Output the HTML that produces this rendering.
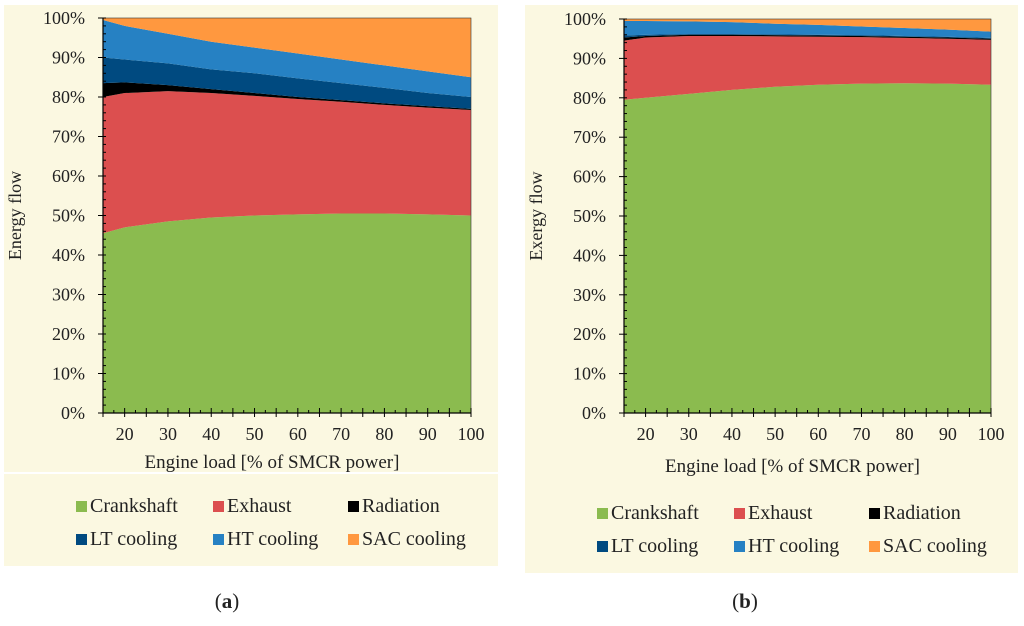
<!DOCTYPE html>
<html><head><meta charset="utf-8">
<style>
body{margin:0;background:#fff;width:1024px;height:621px;overflow:hidden;font-family:"Liberation Serif",serif;}
svg text{font-family:"Liberation Serif",serif;fill:#222;}
</style></head>
<body>
<svg id="fig" width="1024" height="621" xmlns="http://www.w3.org/2000/svg">
  <rect x="4" y="5" width="494" height="467" fill="#FBF8E1"/>
  <rect x="4" y="474" width="494" height="92" fill="#FBF8E1"/>
  <rect x="525" y="5" width="493" height="568" fill="#FBF8E1"/>
  <text x="227" y="608" font-size="21" text-anchor="middle">(<tspan font-weight="bold">a</tspan>)</text>
  <text x="745" y="608" font-size="21" text-anchor="middle">(<tspan font-weight="bold">b</tspan>)</text>
</svg>
<script>
const loads = [15,20,30,40,50,60,70,80,90,100];
const seriesNames = ["Crankshaft","Exhaust","Radiation","LT cooling","HT cooling","SAC cooling"];
const seriesColors = ["#8BBB4F","#DC4F4F","#000000","#004A80","#2681C3","#FF983F"];
const aCrank = [45.5,47,48.5,49.5,50,50.3,50.5,50.5,50.3,50];
const aExhaust = [34.5,34,33,31.5,30.3,29.2,28.3,27.5,27,26.7];
const aRadiation = [3.5,2.7,1.5,1,0.7,0.5,0.4,0.4,0.4,0.3];
const aLT = [6.5,5.8,5.5,5,5,4.7,4.3,3.9,3.3,3];
const aHT = [9.5,8.5,7.5,7,6.5,6.3,6,5.7,5.5,5];
const aSAC = [0.5,2,4,6,7.5,9,10.5,12,13.5,15];
const bCrank = [79.5,80,81,82,82.8,83.3,83.6,83.7,83.6,83.3];
const bExhaust = [15,15.3,14.7,13.7,12.8,12.2,11.8,11.5,11.4,11.4];
const bRadiation = [0.8,0.4,0.3,0.3,0.3,0.3,0.3,0.3,0.3,0.3];
const bLT = [0.5,0.3,0.2,0.2,0.2,0.2,0.2,0.2,0.2,0.2];
const bHT = [3.7,3.5,3.2,3,2.7,2.5,2.2,2,1.8,1.6];
const bSAC = [0.5,0.5,0.6,0.8,1.2,1.5,1.9,2.3,2.7,3.2];
const xTicks = [20,30,40,50,60,70,80,90,100];
const yTicks = [0,10,20,30,40,50,60,70,80,90,100];

const NS="http://www.w3.org/2000/svg";
const svg=document.getElementById('fig');
function mk(tag,attrs,parent){const e=document.createElementNS(NS,tag);for(const k in attrs)e.setAttribute(k,attrs[k]);(parent||svg).appendChild(e);return e;}

function panel(id,x0,x1,y0,y1,series,ytitle,xtitleY,legY){
  const sx=v=>x0+(v-15)/(100-15)*(x1-x0);
  const sy=v=>y1-v/100*(y1-y0);
  const g=mk('g',{});
  
  
  let base=loads.map(()=>0);
  series.forEach((vals,si)=>{
    const top=base.map((b,i)=>b+vals[i]);
    let pts=loads.map((l,i)=>sx(l)+','+sy(Math.min(100,top[i]))).join(' ');
    pts+=' '+loads.slice().reverse().map((l,j)=>{const i=loads.length-1-j;return sx(l)+','+sy(base[i]);}).join(' ');
    const p=mk('polygon',{points:pts,fill:seriesColors[si]},g);
    
    
    base=top;
  });
  mk('rect',{x:x0,y:y0,width:x1-x0,height:y1-y0,fill:'none',stroke:'#333','stroke-width':0.6},g);
  mk('line',{x1:x0,y1:y0,x2:x0,y2:y1,stroke:'#000','stroke-width':1.2},g);
  for(let v=0;v<=100;v+=2){mk('line',{x1:x0-(v%10===0?5:0),x2:x0+3,y1:sy(v),y2:sy(v),stroke:'#000','stroke-width':1},g);}
  yTicks.forEach(v=>{const t=mk('text',{x:x0-18,y:sy(v)+6,'font-size':18,'text-anchor':'end'},g);t.textContent=v+'%';
    });
  mk('line',{x1:x0,y1:y1,x2:x1,y2:y1,stroke:'#000','stroke-width':1.2},g);
  for(let v=15;v<=100;v+=2.5){const big=(v%5===0);mk('line',{x1:sx(v),x2:sx(v),y1:y1-(big?5:3),y2:y1+(big?4:0),stroke:'#000','stroke-width':1},g);}
  xTicks.forEach(v=>{const t=mk('text',{x:sx(v),y:y1+27,'font-size':18,'text-anchor':'middle'},g);t.textContent=v;
    });
  const xt=mk('text',{x:(x0+x1)/2-15,y:xtitleY,'font-size':19,'text-anchor':'middle'},g);xt.textContent='Engine load [% of SMCR power]';
  
  const cy=(y0+y1)/2;const ytx=x0-82;
  const yt=mk('text',{x:ytx,y:cy,'font-size':18,'text-anchor':'middle',transform:'rotate(-90 '+ytx+' '+cy+')'},g);yt.textContent=ytitle;
  
  const lx=[x0-27,x0+110,x0+245];
  seriesNames.forEach((n,i)=>{
    const r=Math.floor(i/3),c=i%3;const ly=legY+r*33;
    const lg=mk('g',{},g);
    
    
    mk('rect',{x:lx[c],y:ly-11,width:11,height:11,fill:seriesColors[i]},lg);
    const t=mk('text',{x:lx[c]+14,y:ly,'font-size':20},lg);t.textContent=n;
  });
}
panel('panel-a',103,471,18,413,[aCrank,aExhaust,aRadiation,aLT,aHT,aSAC],'Energy flow',468,512);
panel('panel-b',624,991,19,413,[bCrank,bExhaust,bRadiation,bLT,bHT,bSAC],'Exergy flow',472,519);
</script>
</body></html>
